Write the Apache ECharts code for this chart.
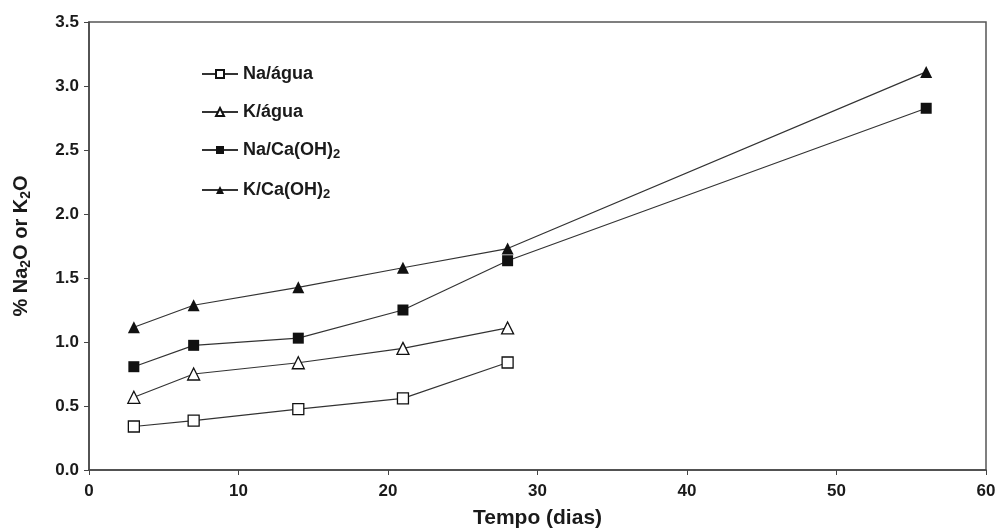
<!DOCTYPE html>
<html>
<head>
<meta charset="utf-8">
<script src="https://cdn.jsdelivr.net/npm/echarts@6/dist/echarts.min.js"></script>
<style>
html,body{margin:0;padding:0;background:#fff;}
#chart{width:996px;height:531px;}
</style>
</head>
<body>
<div id="chart"></div>
<script>
// Alkali content (%) measured over time (days)
const days = [3, 7, 14, 21, 28, 56];
const naAgua = [0.34, 0.385, 0.476, 0.56, 0.84];
const kAgua = [0.568, 0.75, 0.838, 0.95, 1.11];
const naCaOH2 = [0.807, 0.974, 1.03, 1.25, 1.635, 2.826];
const kCaOH2 = [1.115, 1.287, 1.427, 1.58, 1.73, 3.11];
const xTicks = [0, 10, 20, 30, 40, 50, 60];
const yTicks = [0, 0.5, 1.0, 1.5, 2.0, 2.5, 3.0, 3.5];

const seriesNames = ['Na/água', 'K/água', 'Na/Ca(OH)2', 'K/Ca(OH)2'];
const seriesValues = [naAgua, kAgua, naCaOH2, kCaOH2];
const symbols = ['rect', 'triangle', 'rect', 'triangle'];
const filled = [false, false, true, true];

const pair = (vals) => vals.map((v, i) => [days[i], v]);
const ink = '#1a1a1a';
const font = 'Liberation Sans, Arial, sans-serif';
const sub = (size) => ({ fontFamily: font, fontSize: size, fontWeight: 'bold', color: ink, verticalAlign: 'bottom', padding: [9, 0, 0, 0] });

const chart = echarts.init(document.getElementById('chart'));
chart.setOption({
  animation: false,
  backgroundColor: '#fff',
  grid: { left: 89, right: 10, top: 22, bottom: 61, outerBoundsMode: 'none', containLabel: false,
    show: true, borderColor: '#555', borderWidth: 1.5 },
  legend: {
    orient: 'vertical',
    left: 196,
    top: 60,
    itemGap: 20,
    itemWidth: 36,
    itemHeight: 10,
    data: seriesNames,
    formatter: (n) => n.replace('(OH)2', '(OH){s|2}'),
    textStyle: {
      fontFamily: font, fontSize: 18, fontWeight: 'bold', color: ink,
      rich: { s: sub(13) }
    }
  },
  xAxis: {
    type: 'value', min: 0, max: 60, interval: 10,
    name: 'Tempo (dias)', nameLocation: 'middle', nameGap: 38,
    nameTextStyle: { fontFamily: font, fontSize: 21, fontWeight: 'bold', color: ink },
    axisLine: { lineStyle: { color: '#444', width: 1.5 } },
    axisTick: { show: true, length: 5, lineStyle: { color: '#444' } },
    axisLabel: { fontFamily: font, fontSize: 17, fontWeight: 'bold', color: ink, margin: 13,
      customValues: xTicks },
    splitLine: { show: false }
  },
  yAxis: {
    type: 'value', min: 0, max: 3.5, interval: 0.5,
    name: '% Na{s|2}O or K{s|2}O', nameLocation: 'middle', nameGap: 56,
    nameTextStyle: { fontFamily: font, fontSize: 20, fontWeight: 'bold', color: ink,
      rich: { s: sub(14) } },
    axisLine: { show: true, lineStyle: { color: '#444', width: 1.5 } },
    axisTick: { show: true, length: 5, lineStyle: { color: '#444' } },
    axisLabel: { fontFamily: font, fontSize: 17, fontWeight: 'bold', color: ink, margin: 10,
      formatter: (v) => v.toFixed(1), customValues: yTicks },
    splitLine: { show: false }
  },
  series: seriesNames.map((name, i) => ({
    name,
    type: 'line',
    data: pair(seriesValues[i]),
    symbol: symbols[i],
    symbolSize: symbols[i] === 'rect' ? 11 : 12,
    showAllSymbol: true,
    lineStyle: { color: '#333', width: 1.2 },
    itemStyle: { color: filled[i] ? '#111' : '#fff', borderColor: '#111', borderWidth: filled[i] ? 0 : 1.3 },
    z: 3 + i
  }))
});
</script>
</body>
</html>
